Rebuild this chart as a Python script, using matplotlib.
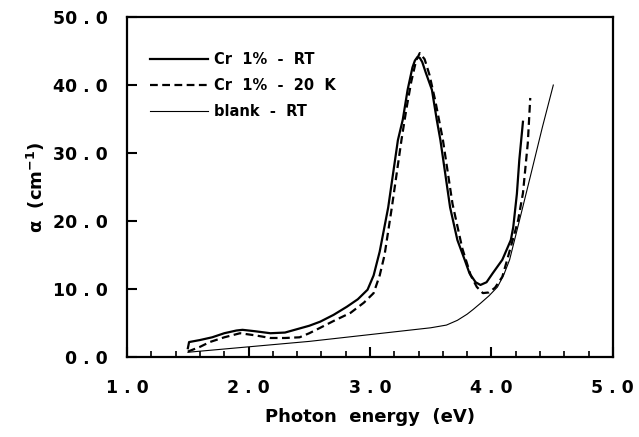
import numpy as np
import matplotlib
matplotlib.use('Agg')
import matplotlib.pyplot as plt
from matplotlib.ticker import MultipleLocator

# Cr 1% - RT
e_rt = [1.50, 1.51, 1.60, 1.70, 1.80, 1.90, 1.95, 2.05, 2.18, 2.30, 2.42, 2.50, 2.59,
        2.70, 2.81, 2.90, 2.98, 3.03, 3.08, 3.15, 3.23, 3.27, 3.31, 3.35, 3.37, 3.39,
        3.41, 3.43, 3.46, 3.51, 3.55, 3.58, 3.66, 3.72, 3.78, 3.82, 3.87, 3.91, 3.96,
        4.01, 4.09, 4.16, 4.18, 4.21, 4.23, 4.26]
a_rt = [1.3, 2.2, 2.5, 2.9, 3.5, 3.9, 4.0, 3.8, 3.5, 3.6, 4.2, 4.6, 5.2,
        6.2, 7.4, 8.5, 9.9, 12.0, 15.5, 22.0, 31.9, 34.9, 39.3, 42.6, 43.6, 44.1,
        44.0, 43.4, 41.8, 39.3, 34.9, 31.9, 22.0, 17.2, 14.3, 12.3, 11.0, 10.6, 11.0,
        12.3, 14.3, 17.2, 19.1, 24.0, 29.0, 34.6]

# Cr 1% - 20 K
e_20k = [1.50, 1.60, 1.68, 1.80, 1.93, 2.05, 2.18, 2.30, 2.42, 2.50, 2.59, 2.70, 2.84,
         2.95, 3.03, 3.08, 3.12, 3.18, 3.26, 3.30, 3.34, 3.38, 3.41, 3.45, 3.49, 3.54,
         3.60, 3.68, 3.76, 3.83, 3.88, 3.93, 3.98, 4.03, 4.09, 4.13, 4.18, 4.22, 4.26,
         4.30, 4.32]
a_20k = [0.8, 1.5, 2.2, 2.9, 3.5, 3.2, 2.8, 2.8, 2.9, 3.5, 4.3, 5.3, 6.5,
         8.0, 9.4, 12.0, 15.0, 22.0, 32.0, 36.5, 40.5, 43.6, 44.7, 43.8, 41.5, 37.5,
         32.0, 22.5, 16.0, 12.0, 10.3, 9.4, 9.5, 10.2, 11.8, 14.3, 17.5, 20.1, 24.1,
         31.5, 38.1]

# blank - RT
e_blank = [1.50, 1.75, 2.00, 2.25, 2.50, 2.75, 3.00, 3.25, 3.50, 3.63, 3.72, 3.80,
           3.85, 3.91, 3.98, 4.05, 4.10, 4.15, 4.23, 4.32, 4.42, 4.51]
a_blank = [0.7, 1.1, 1.5, 1.9, 2.3, 2.8, 3.3, 3.8, 4.3, 4.7, 5.4, 6.3,
           7.0, 7.9, 9.0, 10.3, 12.0, 14.3, 20.0, 26.5, 33.8, 40.0]

xticks = [1.0, 2.0, 3.0, 4.0, 5.0]
yticks = [0.0, 10.0, 20.0, 30.0, 40.0, 50.0]


def spaced(v):
    return '{:.1f}'.format(v).replace('.', ' . ')


plt.rcParams['font.family'] = ['DejaVu Sans']
plt.rcParams['font.weight'] = 'bold'
plt.rcParams['mathtext.default'] = 'bf'

fig = plt.figure(figsize=(6.39, 4.37), dpi=100)
ax = fig.add_axes([0.199, 0.183, 0.76, 0.778])

ax.plot(e_rt, a_rt, color='black', lw=1.6, label='Cr  1%  -  RT')
ax.plot(e_20k, a_20k, color='black', lw=1.6, ls=(0, (3.5, 2)), label='Cr  1%  -  20  K')
ax.plot(e_blank, a_blank, color='black', lw=0.8, label='blank  -  RT')

ax.set_xlim(1.0, 5.0)
ax.set_ylim(0.0, 50.0)
ax.set_xticks(xticks)
ax.set_xticklabels([spaced(v) for v in xticks])
ax.set_yticks(yticks)
ax.set_yticklabels([spaced(v) for v in yticks])
ax.xaxis.set_minor_locator(MultipleLocator(0.2))
ax.tick_params(which='major', direction='in', length=7, width=1.5, labelsize=12.5)
ax.tick_params(which='minor', direction='in', length=4, width=1.2)
ax.tick_params(axis='x', pad=16)
ax.tick_params(axis='y', which='minor', length=0)
ax.tick_params(axis='y', pad=14)
for s in ax.spines.values():
    s.set_linewidth(1.6)

ax.set_xlabel('Photon  energy  (eV)', fontsize=13, fontweight='bold', labelpad=8)
ax.set_ylabel(r'α  (cm$^{-1}$)', fontsize=13, fontweight='bold', labelpad=4)

ax.legend(loc='upper left', bbox_to_anchor=(0.02, 0.935), frameon=False, fontsize=10.5,
          handlelength=4.0, handletextpad=0.4, labelspacing=0.75)

fig.savefig('out.png', dpi=100)
